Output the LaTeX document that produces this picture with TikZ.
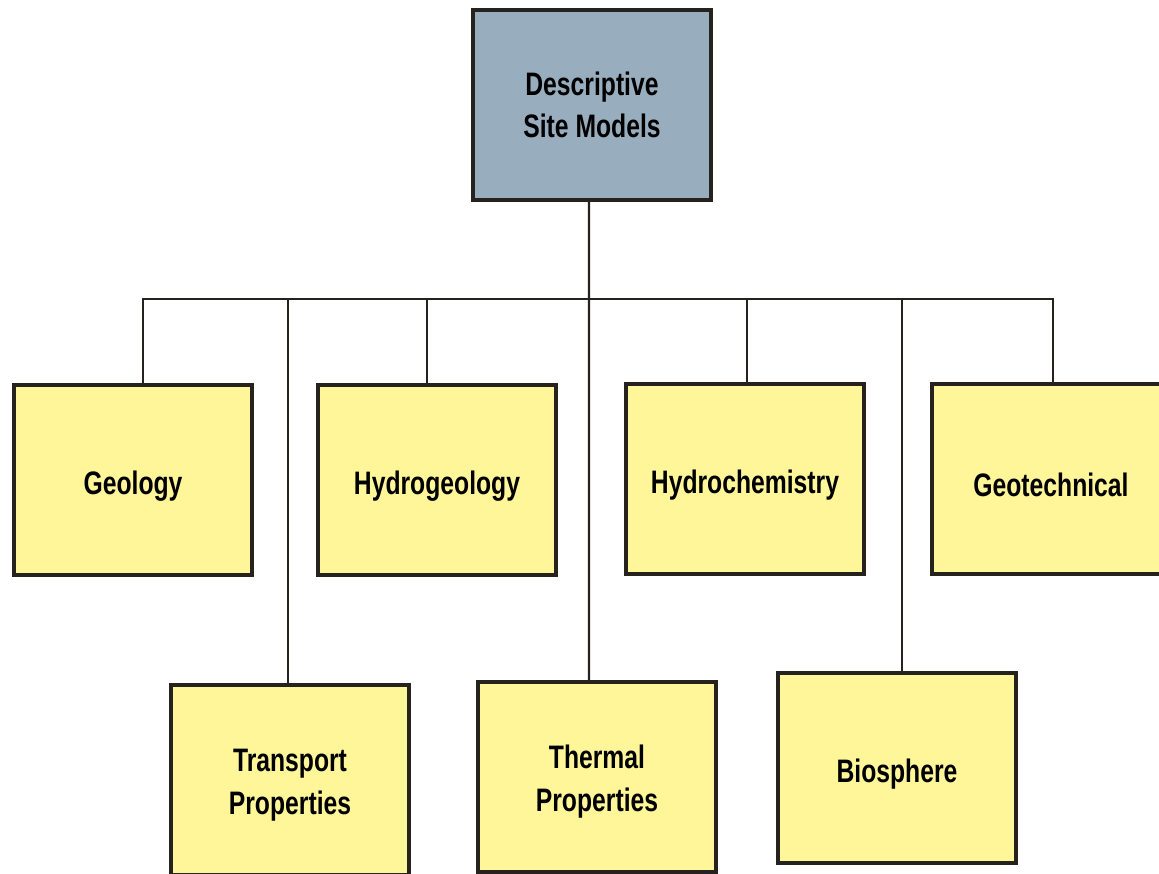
\documentclass[tikz,border=0pt]{standalone}
\usepackage{fontspec}
\setmainfont{Liberation Sans}[FakeStretch=0.76]
\usepackage{tikz}
\usetikzlibrary{positioning}
\definecolor{slate}{RGB}{152,174,190}
\definecolor{pale}{RGB}{255,246,153}
\definecolor{ink}{RGB}{38,34,30}
\tikzset{
    head/.style={
           rectangle,
           draw=ink, line width=2.3pt,
           fill=slate,
           minimum width=4.76cm, minimum height=3.8cm,
           align=center,
           font=\fontsize{18.5}{24}\selectfont\bfseries,
           },
}
\tikzset{
    sub/.style={
           rectangle,
           draw=ink, line width=2.3pt,
           fill=pale,
           minimum width=4.76cm, minimum height=3.8cm,
           align=center, text height=0.72cm,
           font=\fontsize{18.5}{24}\selectfont\bfseries,
           },
    subtwo/.style={
           sub, text height=1.5cm,
           },
}
\tikzset{
    link/.style={
           draw=ink, line width=1.3pt,
           },
}
\begin{document}
\begin{tikzpicture}[x=0.02cm,y=-0.02cm]
\useasboundingbox (0,0) rectangle (1159,874);
\node[head] (dsm) at (592,105) {Descriptive\\Site Models};
\coordinate (bus) at (589,299);
% first row
\node[sub] (geol) at (133,480) {Geology};
\node[sub] (hgeo) at (437,480) {Hydrogeology};
\node[sub] (hchem) at (745,479) {Hydrochemistry};
\node[sub] (gtech) at (1051,479) {Geotechnical};
% second row
\node[subtwo] (trans) at (290,780) {Transport\\Properties};
\node[subtwo] (therm) at (597,777) {Thermal\\Properties};
\node[sub] (bios) at (897,768) {Biosphere};
\draw[link] ([xshift=-0.06cm]dsm.south) -- (bus);
\draw[link] ([xshift=0.2cm]geol.north) |- (bus);
\draw[link] ([xshift=-0.04cm]trans.north) |- (bus);
\draw[link] ([xshift=-0.2cm]hgeo.north) |- (bus);
\draw[link] ([xshift=-0.16cm]therm.north) -- (bus);
\draw[link] ([xshift=0.04cm]hchem.north) |- (bus);
\draw[link] ([xshift=0.1cm]bios.north) |- (bus);
\draw[link] ([xshift=0.04cm]gtech.north) |- (bus);
\end{tikzpicture}
\end{document}
